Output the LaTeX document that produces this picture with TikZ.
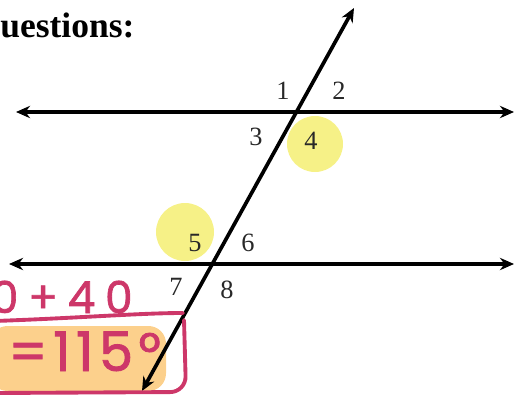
\documentclass[tikz,border=0pt]{standalone}
\usepackage{fontspec}
\setmainfont{Liberation Serif}
\newfontfamily\handfont{Poppins}[FakeBold=1.5]
\usetikzlibrary{arrows.meta}
\definecolor{inkpink}{RGB}{205,55,105}
\definecolor{hiyellow}{RGB}{246,241,135}
\definecolor{hiorange}{RGB}{252,208,140}
\definecolor{numgray}{RGB}{40,40,40}

\begin{document}
\begin{tikzpicture}[x=0.02cm,y=-0.02cm,
  lineend/.style={line width=2.1pt, {Stealth[length=8pt,width=7pt]}-{Stealth[length=8pt,width=7pt]}},
  anglab/.style={font=\fontsize{15}{15}\selectfont, text=numgray, inner sep=0pt},
  ink/.style={draw=inkpink, line width=2.2pt, line cap=round, line join=round}]
\useasboundingbox (0,0) rectangle (515,396);
\clip (0,0) rectangle (515,396);

% ── Title ─────────────────────────────────────────────────────────────────────
\node[font=\fontsize{20.2}{20}\selectfont\bfseries, anchor=base west, inner sep=0pt]
      (title) at (0,37) {uestions:};

% ── Highlights ────────────────────────────────────────────────────────────────
\fill[hiyellow] (315,144) circle (28);
\fill[hiyellow] (185,232) circle (29);
\fill[hiorange, rounded corners=10] (-10,326) rectangle (166,391);

% ── Parallel lines and transversal ────────────────────────────────────────────
\coordinate (topL) at (16,112);
\coordinate (topR) at (514,112);
\coordinate (botL) at (9,264);
\coordinate (botR) at (514,264);
\coordinate (trTop) at (354,8);
\coordinate (trBot) at (142,391);
\draw[lineend] (topL) -- (topR);
\draw[lineend] (botL) -- (botR);
\draw[lineend] (trBot) -- (trTop);

% ── Angle numbers ─────────────────────────────────────────────────────────────
\node[anglab] (a1) at (283,91) {1};
\node[anglab] (a2) at (339,91) {2};
\node[anglab] (a3) at (256,137) {3};
\node[anglab] (a4) at (311,141) {4};
\node[anglab] (a5) at (195,243) {5};
\node[anglab] (a6) at (248,243) {6};
\node[anglab] (a7) at (176,287) {7};
\node[anglab] (a8) at (227,290) {8};

% ── Handwritten working ───────────────────────────────────────────────────────
\node[font=\handfont\addfontfeature{LetterSpace=22}\fontsize{25}{25}\selectfont,
      text=inkpink, anchor=base east, inner sep=0pt] (work) at (133,313) {0+40};
\node[font=\handfont\addfontfeature{LetterSpace=10}\fontsize{31}{31}\selectfont,
      text=inkpink, anchor=base west, inner sep=0pt] (answer) at (8,371) {=115°};
\draw[ink] (-5,321) .. controls (80,318) and (140,313) .. (183,313);
\draw[ink, rounded corners=9] (184,320) -- (186,392) -- (-5,393);

\end{tikzpicture}
\end{document}
